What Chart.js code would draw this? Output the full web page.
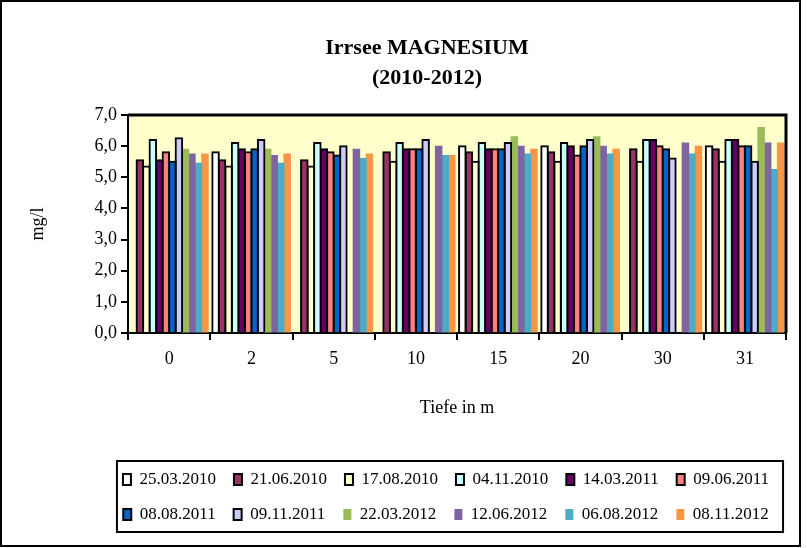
<!DOCTYPE html>
<html>
<head>
<meta charset="utf-8">
<script src="https://cdn.jsdelivr.net/npm/chart.js@4/dist/chart.umd.min.js"></script>
<style>
  html, body { margin: 0; padding: 0; background: #fff; }
  #wrap { width: 807px; height: 548px; }
</style>
</head>
<body>
<div id="wrap"><canvas id="c" width="807" height="548"></canvas></div>
<script>
const categories = ['0', '2', '5', '10', '15', '20', '30', '31'];
const seriesNames = ['25.03.2010', '21.06.2010', '17.08.2010', '04.11.2010', '14.03.2011', '09.06.2011',
                     '08.08.2011', '09.11.2011', '22.03.2012', '12.06.2012', '06.08.2012', '08.11.2012'];
const s25032010 = [null, 5.8, null, null, 6.0, 6.0, null, 6.0];
const s21062010 = [5.55, 5.55, 5.55, 5.8, 5.8, 5.8, 5.9, 5.9];
const s17082010 = [5.35, 5.35, 5.35, 5.5, 5.5, 5.5, 5.5, 5.5];
const s04112010 = [6.2, 6.1, 6.1, 6.1, 6.1, 6.1, 6.2, 6.2];
const s14032011 = [5.55, 5.9, 5.9, 5.9, 5.9, 6.0, 6.2, 6.2];
const s09062011 = [5.8, 5.8, 5.8, 5.9, 5.9, 5.7, 6.0, 6.0];
const s08082011 = [5.5, 5.9, 5.7, 5.9, 5.9, 6.0, 5.9, 6.0];
const s09112011 = [6.25, 6.2, 6.0, 6.2, 6.1, 6.2, 5.6, 5.5];
const s22032012 = [5.9, 5.9, null, null, 6.3, 6.3, null, 6.6];
const s12062012 = [5.75, 5.7, 5.9, 6.0, 6.0, 6.0, 6.1, 6.1];
const s06082012 = [5.45, 5.45, 5.6, 5.7, 5.75, 5.75, 5.75, 5.25];
const s08112012 = [5.75, 5.75, 5.75, 5.7, 5.9, 5.9, 6.0, 6.1];
const yTicks = [0, 1, 2, 3, 4, 5, 6, 7];

const seriesValues = [s25032010, s21062010, s17082010, s04112010, s14032011, s09062011,
                      s08082011, s09112011, s22032012, s12062012, s06082012, s08112012];
const colors = ['#FFFFFF', '#993366', '#FFFFCC', '#CCFFFF', '#660066', '#FF8080',
                '#0066CC', '#CCCCFF', '#9BBB59', '#8064A2', '#4BACC6', '#F79646'];
const bordered = [true, true, true, true, true, true, true, true, false, false, false, false];

const FONT = "'Liberation Serif', 'Times New Roman', serif";

const datasets = seriesNames.map((name, i) => ({
  label: name,
  data: seriesValues[i],
  backgroundColor: colors[i],
  borderColor: '#000000',
  borderWidth: bordered[i] ? 2 : 0,
  inflateAmount: bordered[i] ? 1 : 0.5,
  categoryPercentage: 0.95,
  barPercentage: 1.0
}));

const decor = {
  id: 'decor',
  afterLayout(chart) {
    if (chart.titleBlock) { chart.titleBlock.left += 24; chart.titleBlock.right += 24; }
    if (chart.legend) { chart.legend.left += 43; chart.legend.right += 43; }
  },
  beforeDraw(chart) {
    const ctx = chart.ctx, a = chart.chartArea;
    ctx.save();
    ctx.fillStyle = '#ffffff';
    ctx.fillRect(0, 0, chart.width, chart.height);
    ctx.fillStyle = '#FFFFCC';
    ctx.fillRect(a.left, a.top, a.right - a.left, a.bottom - a.top);
    ctx.restore();
  },
  afterDatasetsDraw(chart) {
    const ctx = chart.ctx, a = chart.chartArea;
    ctx.save();
    ctx.strokeStyle = '#000';
    ctx.lineWidth = 3;
    ctx.beginPath();
    ctx.moveTo(a.left, a.top);
    ctx.lineTo(a.right, a.top);
    ctx.lineTo(a.right, a.bottom);
    ctx.stroke();
    ctx.restore();
  },
  afterDraw(chart) {
    const ctx = chart.ctx;
    ctx.save();
    ctx.strokeStyle = '#000';
    const hb = chart.legend && chart.legend.legendHitBoxes;
    if (hb && hb.length) {
      let l = Infinity, r = -Infinity, t = Infinity, b = -Infinity;
      hb.forEach(h => {
        l = Math.min(l, h.left); r = Math.max(r, h.left + h.width);
        t = Math.min(t, h.top); b = Math.max(b, h.top + h.height);
      });
      ctx.lineWidth = 2;
      ctx.strokeRect(l - 6, t - 10, (r - l) + 20, (b - t) + 19);
    }
    ctx.lineWidth = 2;
    ctx.strokeRect(1, 1, 799, 545);
    ctx.restore();
  }
};

new Chart(document.getElementById('c'), {
  type: 'bar',
  data: { labels: categories, datasets },
  plugins: [decor],
  options: {
    responsive: false,
    animation: false,
    layout: { padding: { left: 20, right: 21, top: 10, bottom: 15 } },
    plugins: {
      title: {
        display: true,
        text: ['Irrsee MAGNESIUM', '(2010-2012)'],
        color: '#000',
        font: { family: FONT, size: 22, weight: 'bold', lineHeight: 1.3636 },
        padding: { top: 23, bottom: 22 }
      },
      legend: {
        display: true,
        position: 'bottom',
        labels: {
          color: '#000',
          font: { family: FONT, size: 17 },
          boxWidth: 8,
          boxHeight: 11,
          padding: 18
        }
      },
      tooltip: { enabled: false }
    },
    scales: {
      x: {
        grid: { display: true, drawOnChartArea: false, drawTicks: true, tickLength: 7, color: '#000', lineWidth: 2, offset: true },
        border: { display: true, color: '#000', width: 2 },
        ticks: { color: '#000', font: { family: FONT, size: 18 }, padding: 8, maxRotation: 0 },
        title: { display: true, text: 'Tiefe in m', color: '#000', font: { family: FONT, size: 18 }, padding: { top: 0, bottom: 34 } },
        afterFit(scale) { scale.height = 120; }
      },
      y: {
        min: 0,
        max: 7,
        afterBuildTicks(scale) { scale.ticks = yTicks.map(v => ({ value: v })); },
        grid: { display: true, drawOnChartArea: false, drawTicks: true, tickLength: 7, color: '#000', lineWidth: 2 },
        border: { display: true, color: '#000', width: 2 },
        ticks: {
          color: '#000', font: { family: FONT, size: 18 }, padding: 4,
          callback: v => Number(v).toFixed(1).replace('.', ',')
        },
        title: { display: true, text: 'mg/l', color: '#000', font: { family: FONT, size: 18 }, padding: { top: 7, bottom: 0 } },
        afterFit(scale) { scale.width = 108; }
      }
    }
  }
});
</script>
</body>
</html>
